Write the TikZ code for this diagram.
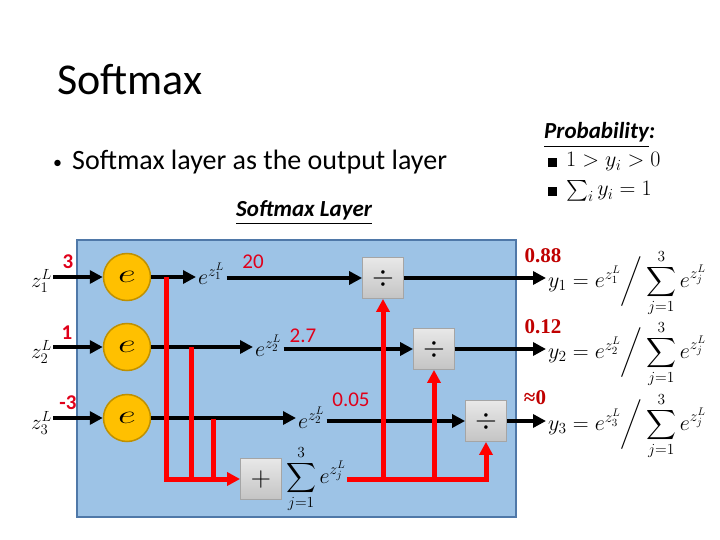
\RequirePackage{fix-cm}
\documentclass[tikz,border=0pt]{standalone}
\usepackage{exscale}
\usepackage{fontspec}
\setmainfont{Carlito}
\newfontfamily\numserif{Liberation Serif}
\usetikzlibrary{arrows.meta,positioning,calc}
\definecolor{SmBlue}{HTML}{9DC3E6}
\definecolor{SmEdge}{HTML}{4F78A8}
\definecolor{SmOrange}{HTML}{FFC000}
\definecolor{SmOrangeEdge}{HTML}{BF9000}
\definecolor{SmRed}{HTML}{FF0000}
\definecolor{SmValRed}{HTML}{E0001A}
\definecolor{SmDarkRed}{HTML}{C00000}
\definecolor{SmGrayTop}{HTML}{E8E8E8}
\definecolor{SmGrayBot}{HTML}{C4C4C4}
\definecolor{SmGrayEdge}{HTML}{A5A5A5}

\begin{document}
\begin{tikzpicture}[x=1pt,y=-1pt,
  expnode/.style={circle,draw=SmOrangeEdge,fill=SmOrange,line width=1.5pt,minimum size=47pt,inner sep=0pt,font=\fontsize{26}{26}\selectfont},
  opbox/.style={draw=SmGrayEdge,line width=0.8pt,top color=SmGrayTop,bottom color=SmGrayBot,minimum size=41pt,inner sep=0pt,font=\fontsize{28}{28}\selectfont},
  sigarrow/.style={line width=4pt,-{Triangle[length=13pt,width=13pt]}},
  sumline/.style={line width=5pt,SmRed},
  sumarrow/.style={sumline,-{Triangle[length=13pt,width=13pt]}},
  val/.style={text=SmValRed,font=\fontsize{21}{21}\selectfont},
  valb/.style={text=SmValRed,font=\fontsize{21}{21}\selectfont\bfseries},
  prob/.style={text=SmDarkRed,font=\fontsize{21}{21}\selectfont\numserif\bfseries},
  zlab/.style={anchor=east,inner sep=1pt,font=\fontsize{21}{21}\selectfont},
  explab/.style={anchor=base west,inner sep=2pt,font=\fontsize{22}{22}\selectfont},
  eqn/.style={anchor=west,inner sep=2pt,font=\fontsize{22}{22}\selectfont}]
\fill[white] (0,0) rectangle (720,540);
\useasboundingbox (0,0) rectangle (720,540);

% slide text
\node[anchor=base west,inner sep=0pt,font=\fontsize{44}{44}\selectfont] (title) at (57,95) {Softmax};
\node[anchor=base west,inner sep=0pt,font=\fontsize{28}{28}\selectfont] (bullet) at (53,170) {\raisebox{1pt}{\fontsize{18}{18}\selectfont•}\hspace{10pt}Softmax layer as the output layer};
\node[anchor=base west,inner sep=0pt,font=\fontsize{23}{23}\selectfont\bfseries\itshape] (layerhead) at (236,216) {\underline{Softmax Layer}};
\node[anchor=base west,inner sep=0pt,font=\fontsize{23}{23}\selectfont\bfseries\itshape] (probhead) at (544,139) {\underline{Probability}:};
\node[anchor=base west,inner sep=0pt,font=\fontsize{22}{22}\selectfont] (cond1) at (548,167) {\rule{9pt}{9pt}\hspace{9pt}$1>y_i>0$};
\node[anchor=base west,inner sep=0pt,font=\fontsize{22}{22}\selectfont] (cond2) at (548,196) {\rule{9pt}{9pt}\hspace{9pt}$\sum_i y_i=1$};

% the layer
\node[draw=SmEdge,fill=SmBlue,line width=2pt,minimum width=439pt,minimum height=277pt,inner sep=0pt] (layer) at (296.5,378.5) {};

\node[expnode] (e1) at (127,277) {\scalebox{1.5}[1]{$e$}};
\node[expnode] (e2) at (127,347) {\scalebox{1.5}[1]{$e$}};
\node[expnode] (e3) at (127,418) {\scalebox{1.5}[1]{$e$}};

\node[zlab] (z1) at (53,281) {$z_1^L$};
\node[zlab] (z2) at (53,352) {$z_2^L$};
\node[zlab] (z3) at (53,423) {$z_3^L$};
\node[valb] (v1) at (68,262) {3};
\node[valb] (v2) at (67,333) {1};
\node[valb] (v3) at (68,403) {-3};

\node[explab] (ex1) at (196,284) {$e^{z_1^L}$};
\node[explab] (ex2) at (253,356) {$e^{z_2^L}$};
\node[explab] (ex3) at (296,428) {$e^{z_2^L}$};
\node[val] (n1) at (253,262) {20};
\node[val] (n2) at (303,336) {2.7};
\node[val] (n3) at (351,400) {0.05};

\node[opbox] (div1) at (383,278) {$\div$};
\node[opbox] (div2) at (434,349) {$\div$};
\node[opbox] (div3) at (486,421) {$\div$};
\node[opbox] (plus) at (261,479) {$+$};
\node[right=3pt of plus,inner sep=1pt,font=\fontsize{22}{22}\selectfont] (sum) {$\displaystyle\sum_{j=1}^{3}e^{z_j^L}$};

\node[eqn] (f1) at (546,283) {$y_1=e^{z_1^L}\bigg/\displaystyle\sum_{j=1}^{3}e^{z_j^L}$};
\node[eqn] (f2) at (546,354) {$y_2=e^{z_2^L}\bigg/\displaystyle\sum_{j=1}^{3}e^{z_j^L}$};
\node[eqn] (f3) at (546,426) {$y_3=e^{z_3^L}\bigg/\displaystyle\sum_{j=1}^{3}e^{z_j^L}$};
\node[prob] (p1) at (543,256) {0.88};
\node[prob] (p2) at (543,327) {0.12};
\node[prob] (p3) at (535,398) {≈0};

% black signal path
\draw[sigarrow] (z1.east |- e1) -- (e1);
\draw[sigarrow] (z2.east |- e2) -- (e2);
\draw[sigarrow] (z3.east |- e3) -- (e3);
\draw[sigarrow] (e1) -- (ex1.west |- e1);
\draw[sigarrow] (e2) -- (ex2.west |- e2);
\draw[sigarrow] (e3) -- (ex3.west |- e3);
\draw[sigarrow] (ex1.east |- div1.west) -- (div1.west);
\draw[sigarrow] (ex2.east |- div2.west) -- (div2.west);
\draw[sigarrow] (ex3.east |- div3.west) -- (div3.west);
\draw[sigarrow] (div1.east) -- (f1.west |- div1.east);
\draw[sigarrow] (div2.east) -- (f2.west |- div2.east);
\draw[sigarrow] (div3.east) -- (f3.west |- div3.east);

% red sum path
\coordinate (tap1) at (166,277);
\coordinate (tap2) at (191,347);
\coordinate (tap3) at (213,419);
\draw[sumarrow] (tap1) |- (plus.west);
\draw[sumline] (tap2) -- (tap2 |- plus.west);
\draw[sumline] (tap3) -- (tap3 |- plus.west);
\draw[sumarrow] (sum.east |- plus.east) -| (div3.south);
\draw[sumarrow] (div1.south |- plus.east) -- (div1.south);
\draw[sumarrow] (div2.south |- plus.east) -- (div2.south);
\end{tikzpicture}
\end{document}
